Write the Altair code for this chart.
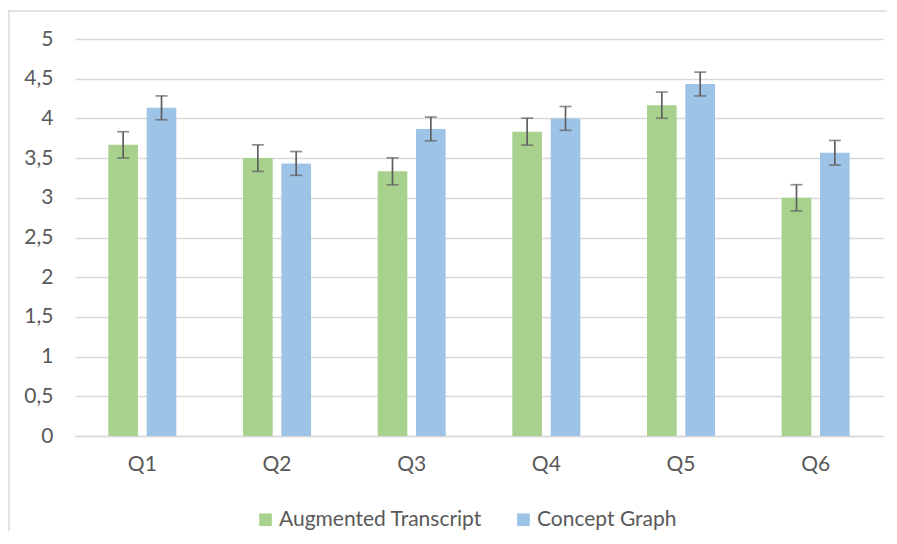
import altair as alt
import pandas as pd

questions = ["Q1", "Q2", "Q3", "Q4", "Q5", "Q6"]
series = ["Augmented Transcript", "Concept Graph"]
augmented = [3.667, 3.5, 3.333, 3.833, 4.167, 3.0]
concept = [4.133, 3.433, 3.867, 4.0, 4.433, 3.567]
augmented_err = [0.165, 0.167, 0.17, 0.17, 0.165, 0.165]
concept_err = [0.15, 0.15, 0.15, 0.15, 0.15, 0.155]
y_ticks = [0, 0.5, 1, 1.5, 2, 2.5, 3, 3.5, 4, 4.5, 5]
colors = ["#a9d18e", "#9dc3e6"]

rows = []
for q, a, ae, c, ce in zip(questions, augmented, augmented_err, concept, concept_err):
    rows.append({"question": q, "series": series[0], "value": a, "lo": a - ae, "hi": a + ae})
    rows.append({"question": q, "series": series[1], "value": c, "lo": c - ce, "hi": c + ce})
df = pd.DataFrame(rows)

TXT = "#595959"
FONT = "Lato"

x = alt.X(
    "question:N",
    sort=questions,
    scale=alt.Scale(paddingInner=0.495, paddingOuter=0.2475),
    axis=alt.Axis(
        title=None, labelAngle=0, labelFont=FONT, labelFontSize=21, labelColor=TXT,
        labelPadding=17, ticks=False, domainColor="#d9d9d9", domainWidth=1.5, grid=False,
    ),
)
xoff = alt.XOffset("series:N", sort=series, scale=alt.Scale(paddingInner=0.227, paddingOuter=0))

yscale = alt.Scale(domain=[0, 5], nice=False)
yaxis = alt.Axis(
    title=None, values=y_ticks, domain=False, ticks=False, labelFont=FONT,
    labelFontSize=21, labelColor=TXT, labelPadding=22, gridColor="#d9d9d9",
    gridWidth=1.5, labelOverlap=False,
    labelExpr="replace(format(datum.value, '~g'), '.', ',')",
)

base = alt.Chart(df)

bars = base.mark_bar().encode(
    x=x,
    xOffset=xoff,
    y=alt.Y("value:Q", scale=yscale, axis=yaxis),
    color=alt.Color(
        "series:N",
        sort=series,
        scale=alt.Scale(domain=series, range=colors),
        legend=alt.Legend(
            title=None, orient="none", legendX=180, legendY=470, direction="horizontal",
            symbolType="square", symbolSize=160, symbolStrokeWidth=0, labelFont=FONT,
            labelFontSize=21, labelColor=TXT, columnPadding=31, labelOffset=3, padding=0,
            labelLimit=0,
        ),
    ),
)

err = base.mark_rule(color="#5f5f5f", strokeWidth=1.7).encode(
    x=x, xOffset=xoff, y=alt.Y("lo:Q", scale=yscale, axis=yaxis), y2="hi:Q"
)
cap_hi = base.mark_tick(color="#5f5f5f", size=12, thickness=1.7).encode(
    x=x, xOffset=xoff, y=alt.Y("hi:Q", scale=yscale, axis=yaxis)
)
cap_lo = base.mark_tick(color="#5f5f5f", size=12, thickness=1.7).encode(
    x=x, xOffset=xoff, y=alt.Y("lo:Q", scale=yscale, axis=yaxis)
)

frame_data = alt.Data(values=[{"k": 0}])
frame_left = alt.Chart(frame_data).mark_rect(color="#d9d9d9", strokeWidth=0).encode(
    x=alt.value(-66.75), x2=alt.value(-65.25), y=alt.value(-28.75), y2=alt.value(492)
)
frame_top = alt.Chart(frame_data).mark_rect(color="#d9d9d9", strokeWidth=0).encode(
    x=alt.value(-66.75), x2=alt.value(812), y=alt.value(-28.75), y2=alt.value(-27.25)
)

chart = alt.layer(bars, err, cap_hi, cap_lo, frame_left, frame_top).properties(
    width=808,
    height=397,
    autosize=alt.AutoSizeParams(type="none"),
    padding={"left": 67, "top": 31, "right": 6, "bottom": 96},
    background="white",
).configure_view(stroke=None)

chart.save("out.html", embed_options={"renderer": "svg", "actions": False})
